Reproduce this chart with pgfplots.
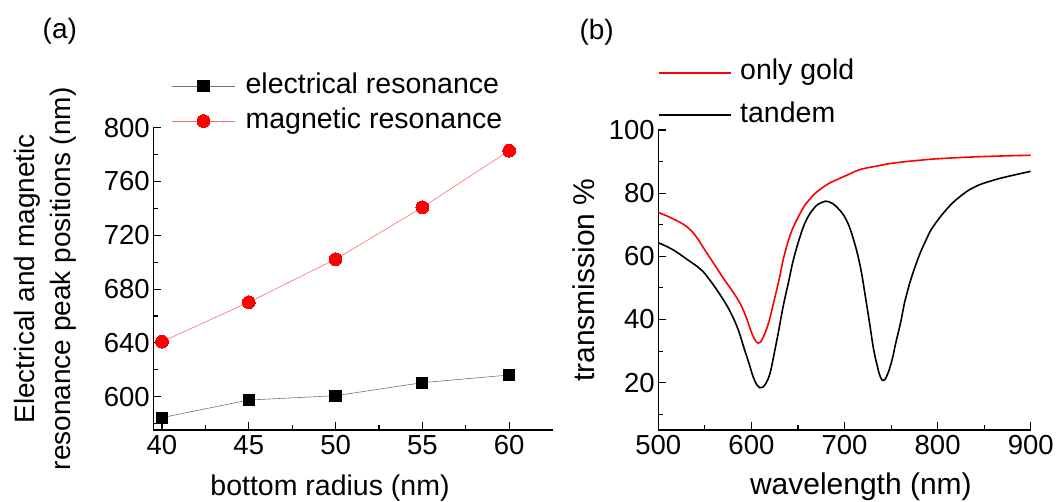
\documentclass[border=0pt]{standalone}
\usepackage{fontspec}
\setmainfont{Liberation Sans}
\usepackage{pgfplots}
\pgfplotsset{compat=1.18}
\definecolor{lred}{RGB}{255,110,110}
\begin{document}
\begin{tikzpicture}
\path[use as bounding box] (0,0) rectangle (1056pt,502pt);
\pgfplotsset{
  common/.style={
    scale only axis,
    axis lines*=left,
    tick align=inside,
    major tick length=7.5pt,
    minor tick length=4.5pt,
    axis line style={line width=1.2pt},
    tick style={line width=1.1pt, black},
    /pgf/number format/assume math mode=true,
    tick label style={font=\fontsize{27.5}{33}\selectfont},
    x tick label style={yshift=-2pt},
    legend cell align=left,
  }
}
\begin{axis}[common,
  at={(153.3pt,72pt)}, anchor=south west,
  width=399.3pt, height=302.3pt,
  xmin=39.5, xmax=62.5, ymin=575.2, ymax=800,
  xtick={40,45,...,60}, ytick={600,640,...,800},
  minor xtick={42.5,47.5,52.5,57.5},
  minor ytick={580,620,660,700,740,780},
  xlabel={bottom radius (nm)},
  xlabel style={at={(axis description cs:0.4425,0)}, anchor=base, yshift=-66pt, font=\fontsize{28.5}{34}\selectfont},
  ylabel={Electrical and magnetic\\resonance peak positions (nm)},
  ylabel style={at={(axis description cs:-0.2695,0.5)}, anchor=center, align=center, font=\fontsize{28}{36}\selectfont},
  legend style={at={(axis description cs:0.0461,1.080)}, anchor=west, draw=none, fill=none, inner sep=0pt, outer sep=0pt, row sep=7pt, column sep=10.3pt, font=\fontsize{28.5}{34}\selectfont, nodes={inner sep=0pt, text height=21pt, text depth=7pt}},
  legend image code/.code={
     \draw[#1] (0pt,0pt) -- (63pt,0pt);
     \draw[#1] plot coordinates {(31.5pt,0pt)};
  },
]
\addplot[color=black!55, line width=0.6pt, mark=square*, mark size=5.6pt, mark options={fill=black, draw=black, line width=0pt}]
  coordinates {(40,584.4) (45,597.5) (50,600.7) (55,610.4) (60,616.1)};
\addlegendentry{electrical resonance}
\addplot[color=lred, line width=0.6pt, mark=*, mark size=6.4pt, mark options={fill=red, draw=red, line width=0pt}]
  coordinates {(40,640.9) (45,670.2) (50,702.2) (55,740.8) (60,782.9)};
\addlegendentry{magnetic resonance}
\end{axis}

\begin{axis}[common,
  at={(658.3pt,72pt)}, anchor=south west,
  width=372.4pt, height=300pt,
  xmin=500, xmax=900, ymin=5, ymax=100,
  xtick={500,600,...,900}, ytick={20,40,...,100},
  minor xtick={550,650,750,850},
  minor ytick={10,30,50,70,90},
  xlabel={wavelength (nm)},
  xlabel style={at={(axis description cs:0.544,0)}, anchor=base, yshift=-65pt, font=\fontsize{30}{36}\selectfont},
  ylabel={transmission \%},
  ylabel style={at={(axis description cs:-0.1995,0.5)}, anchor=center, font=\fontsize{30}{36}\selectfont},
  legend style={at={(axis description cs:0,1.1205)}, anchor=west, draw=none, fill=none, inner sep=0pt, outer sep=0pt, row sep=14.3pt, column sep=8.3pt, font=\fontsize{28.5}{34}\selectfont, nodes={inner sep=0pt, text height=21pt, text depth=7pt}},
  legend image code/.code={
     \draw[#1] (0pt,0pt) -- (72pt,0pt);
  },
]
\addplot[color=red, line width=1.6pt, smooth, tension=0.7] coordinates {
(500,73.9) (515,72.0) (530,69.5) (540,66.5) (550,62.0) (560,57.5) (570,53.0)
(580,48.8) (588,45.0) (594,41.0) (599,36.8) (603,34.0) (607.5,32.5) (612,34.0) (618,38.5)
(624,45.5) (630,53.0) (635,60.0) (642,67.0) (648.7,71.5) (658,76.5) (666.5,79.4)
(680,82.5) (692,84.3) (705,86.0) (717,87.5) (735,88.6) (752,89.5) (780,90.4)
(806,91.0) (850,91.6) (900,92.0)};
\addlegendentry{only gold}
\addplot[color=black, line width=1.6pt, smooth, tension=0.7] coordinates {
(500,64.3) (515,62.2) (532,58.8) (545,56.0) (554,53.0) (568,47.1) (578,42.0)
(586,36.6) (592,31.0) (597,26.5) (603,21.0) (609,18.4) (615,19.5) (620,23.0)
(624,28.5) (629,36.0) (634,44.0) (640,52.0) (645,58.8) (652,66.0) (659,71.5)
(668,75.5) (676,77.1) (683,77.3) (692,75.5) (702,71.5) (710,65.0) (717,56.7)
(722,48.0) (727,38.7) (731,31.0) (735,25.5) (738.5,21.8) (742,20.7) (746,22.5)
(751,27.1) (755,32.5) (760,38.7) (765,46.0) (770,51.5) (779,59.3) (787,64.8)
(795,69.3) (810,75.0) (824,78.9) (840,82.0) (860,84.1) (880,85.6) (900,86.9)};
\addlegendentry{tandem}
\end{axis}

\node[font=\fontsize{28}{34}\selectfont] at (59.8pt,470.3pt) {(a)};
\node[font=\fontsize{28}{34}\selectfont] at (596.7pt,469.5pt) {(b)};
\end{tikzpicture}
\end{document}
